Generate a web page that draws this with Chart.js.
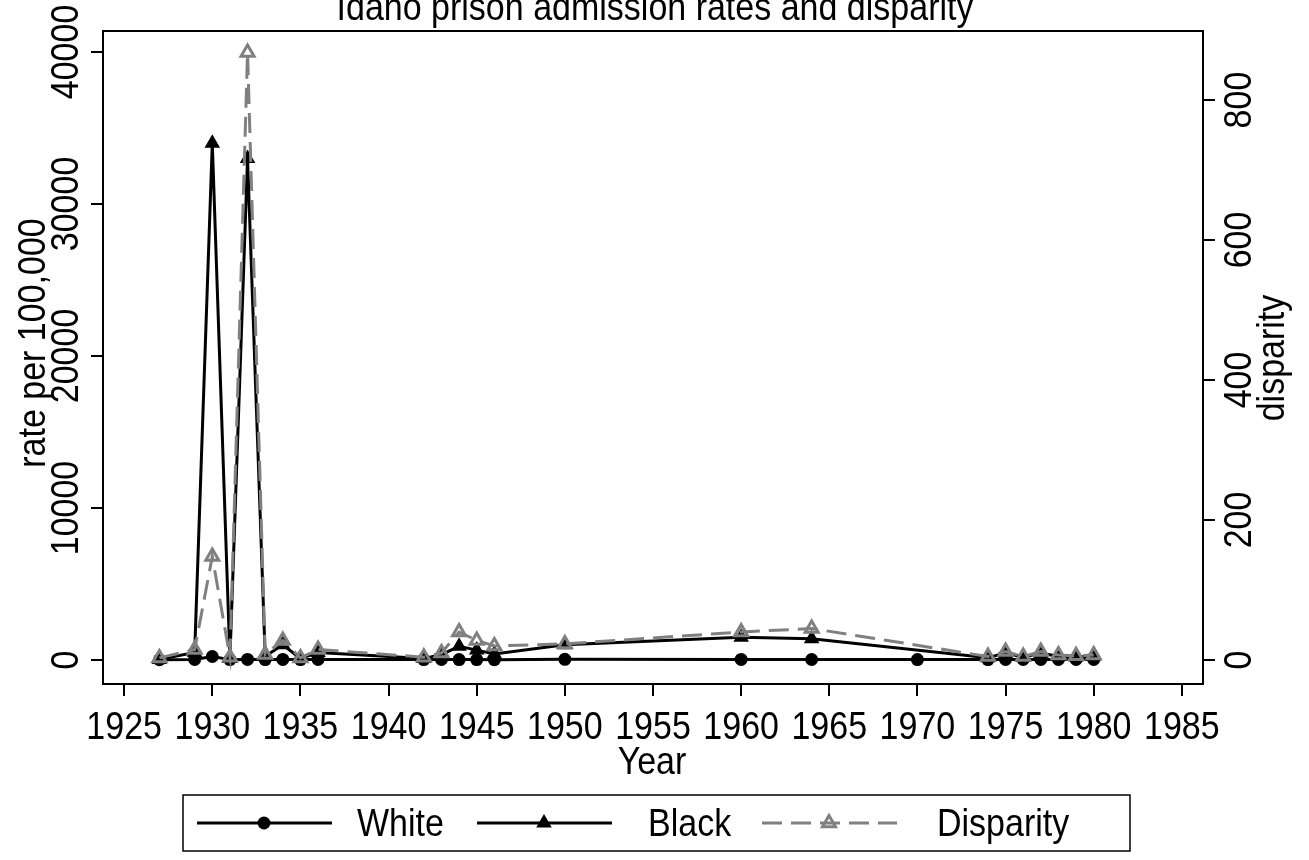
<!DOCTYPE html>
<html>
<head>
<meta charset="utf-8">
<title>Idaho prison admission rates and disparity</title>
<script src="https://cdn.jsdelivr.net/npm/chart.js@4.4.1/dist/chart.umd.min.js"></script>
<style>
  html, body { margin: 0; padding: 0; background: #fff; }
  #wrap { width: 1309px; height: 860px; }
</style>
</head>
<body>
<div id="wrap"><canvas id="myChart" width="1309" height="860"></canvas></div>
<script>
// values (rate per 100,000 and black/white ratio)
const whiteYears = [1927, 1929, 1930, 1931, 1932, 1933, 1934, 1935, 1936, 1942, 1943, 1944, 1945, 1946, 1950, 1960, 1964, 1970, 1974, 1975, 1976, 1977, 1978, 1979, 1980];
const whiteRates = [15, 35, 230, 25, 38, 30, 35, 30, 35, 25, 35, 25, 25, 20, 45, 37, 31, 30, 30, 38, 35, 38, 36, 33, 36];

const blackYears = [1927, 1929, 1930, 1931, 1932, 1933, 1934, 1935, 1936, 1942, 1943, 1944, 1945, 1946, 1950, 1960, 1964, 1974, 1975, 1976, 1977, 1978, 1979, 1980];
const blackRates = [40, 500, 34000, 100, 33000, 250, 1000, 100, 500, 100, 350, 900, 650, 400, 1000, 1500, 1400, 150, 450, 180, 450, 250, 200, 250];
const disparity = [3, 15, 148, 4, 868, 8, 28, 3, 15, 4, 10, 40, 28, 20, 23, 40, 45, 5, 12, 5, 12, 7, 6, 7];

const yearTicks = [1925, 1930, 1935, 1940, 1945, 1950, 1955, 1960, 1965, 1970, 1975, 1980, 1985];
const rateTicks = [0, 10000, 20000, 30000, 40000];
const disparityTicks = [0, 200, 400, 600, 800];

const FONT = "'Liberation Sans', Arial, sans-serif";
const GRAY = "rgb(128,128,128)";
const SY = 1.16; // stata text is a bit taller than plain arial

function pairs(xs, ys) {
  return xs.map((x, i) => ({ x: x, y: ys[i] }));
}

function text(ctx, str, x, y, align) {
  ctx.save();
  ctx.translate(x, y);
  ctx.scale(1, SY);
  ctx.textAlign = align || "center";
  ctx.textBaseline = "alphabetic";
  ctx.fillText(str, 0, 0);
  ctx.restore();
}

function rotatedText(ctx, str, x, y) {
  ctx.save();
  ctx.translate(x, y);
  ctx.rotate(-Math.PI / 2);
  ctx.scale(1, SY);
  ctx.textAlign = "center";
  ctx.textBaseline = "middle";
  ctx.fillText(str, 0, 0);
  ctx.restore();
}

function marker(ctx, ds, x, y) {
  const r = ds.pointRadius;
  ctx.beginPath();
  if (ds.pointStyle === "circle") {
    ctx.arc(x, y, r, 0, Math.PI * 2);
  } else {
    for (let k = 0; k < 3; k++) {
      const a = k * 2 * Math.PI / 3;
      const px = x + Math.sin(a) * r;
      const py = y - Math.cos(a) * r;
      if (k === 0) ctx.moveTo(px, py); else ctx.lineTo(px, py);
    }
    ctx.closePath();
  }
  ctx.fillStyle = ds.pointBackgroundColor;
  ctx.fill();
  if (ds.pointBorderWidth > 0) {
    ctx.lineWidth = ds.pointBorderWidth;
    ctx.strokeStyle = ds.pointBorderColor;
    ctx.stroke();
  }
}

// frame, all text, and the boxed legend underneath
const stataLook = {
  id: "stataLook",
  afterDraw(chart) {
    const ctx = chart.ctx;
    const area = chart.chartArea;
    ctx.save();
    ctx.strokeStyle = "#000";
    ctx.lineWidth = 2;
    ctx.strokeRect(area.left, area.top, area.right - area.left, area.bottom - area.top);

    ctx.fillStyle = "#000";
    ctx.font = "34px " + FONT;
    text(ctx, "Idaho prison admission rates and disparity", 655, 20);
    text(ctx, "Year", 652, 774);

    yearTicks.forEach(v => text(ctx, String(v), chart.scales.x.getPixelForValue(v), 739));
    rateTicks.forEach(v => rotatedText(ctx, String(v), 67, chart.scales.y.getPixelForValue(v)));
    disparityTicks.forEach(v => rotatedText(ctx, String(v), 1240, chart.scales.y2.getPixelForValue(v)));
    rotatedText(ctx, "rate per 100,000", 34, 343);
    rotatedText(ctx, "disparity", 1273, 358);

    // legend
    ctx.lineWidth = 1.5;
    ctx.strokeRect(183, 795, 947, 56);
    const lineX = [197, 477, 762];
    const textX = [357, 648, 937];
    const ly = 823;
    chart.data.datasets.forEach((ds, i) => {
      const x0 = lineX[i];
      ctx.save();
      ctx.setLineDash(ds.borderDash || []);
      ctx.lineWidth = ds.borderWidth;
      ctx.strokeStyle = ds.borderColor;
      ctx.beginPath();
      ctx.moveTo(x0, ly);
      ctx.lineTo(x0 + 135, ly);
      ctx.stroke();
      ctx.setLineDash([]);
      marker(ctx, ds, x0 + 67, ly);
      ctx.restore();
      ctx.fillStyle = "#000";
      text(ctx, ds.label, textX[i], 836, "left");
    });
    ctx.restore();
  }
};

const tickGrid = { drawOnChartArea: false, drawTicks: true, tickLength: 12, color: "#000", lineWidth: 2 };

function createChart() {
  const ctx = document.getElementById("myChart");
  new Chart(ctx, {
    type: "line",
    data: {
      datasets: [
        {
          label: "White",
          data: pairs(whiteYears, whiteRates),
          yAxisID: "y",
          borderColor: "#000",
          borderWidth: 3,
          pointStyle: "circle",
          pointRadius: 6.5,
          pointBackgroundColor: "#000",
          pointBorderColor: "#000",
          pointBorderWidth: 0,
          tension: 0,
          order: 3,
        },
        {
          label: "Black",
          data: pairs(blackYears, blackRates),
          yAxisID: "y",
          borderColor: "#000",
          borderWidth: 3,
          pointStyle: "triangle",
          pointRadius: 9,
          pointBackgroundColor: "#000",
          pointBorderColor: "#000",
          pointBorderWidth: 0,
          tension: 0,
          order: 2,
        },
        {
          label: "Disparity",
          data: pairs(blackYears, disparity),
          yAxisID: "y2",
          borderColor: GRAY,
          borderWidth: 3,
          borderDash: [20, 9],
          pointStyle: "triangle",
          pointRadius: 7.5,
          pointBackgroundColor: "rgba(0,0,0,0)",
          pointBorderColor: GRAY,
          pointBorderWidth: 3,
          tension: 0,
          order: 1,
        },
      ],
    },
    options: {
      responsive: false,
      animation: false,
      devicePixelRatio: 1,
      layout: { padding: { top: 31, bottom: 100, left: 0, right: 0 } },
      plugins: { legend: { display: false }, tooltip: { enabled: false } },
      scales: {
        x: {
          type: "linear",
          position: "bottom",
          min: 1923.8,
          max: 1986.2,
          afterBuildTicks: (scale) => { scale.ticks = yearTicks.map(v => ({ value: v })); },
          afterFit: (scale) => { scale.height = 76; },
          grid: tickGrid,
          border: { display: false },
          ticks: { display: false },
        },
        y: {
          type: "linear",
          position: "left",
          min: -1579,
          max: 41380,
          afterBuildTicks: (scale) => { scale.ticks = rateTicks.map(v => ({ value: v })); },
          afterFit: (scale) => { scale.width = 103; },
          grid: tickGrid,
          border: { display: false },
          ticks: { display: false },
        },
        y2: {
          type: "linear",
          position: "right",
          min: -34.3,
          max: 898.6,
          afterBuildTicks: (scale) => { scale.ticks = disparityTicks.map(v => ({ value: v })); },
          afterFit: (scale) => { scale.width = 106; },
          grid: tickGrid,
          border: { display: false },
          ticks: { display: false },
        },
      },
    },
    plugins: [stataLook],
  });
}

window.addEventListener("load", function () {
  createChart();
});
</script>
</body>
</html>
